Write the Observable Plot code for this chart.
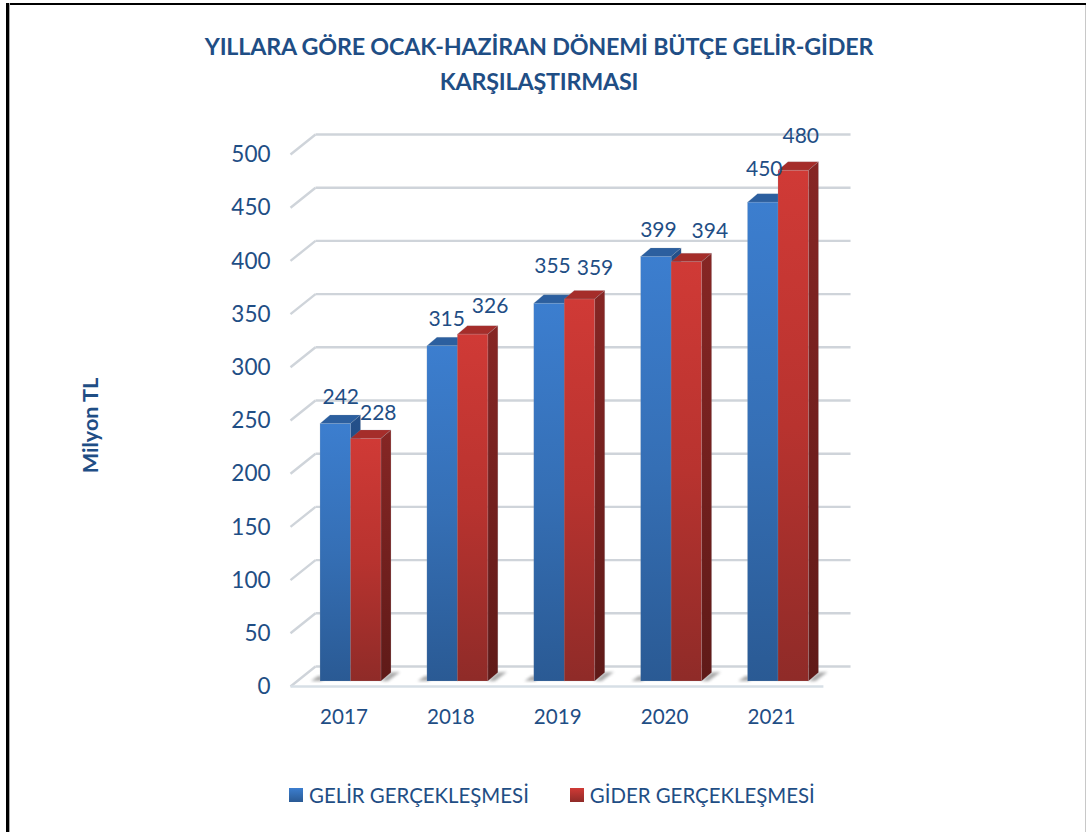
<!DOCTYPE html>
<html><head><meta charset="utf-8">
<script src="https://cdn.jsdelivr.net/npm/d3@7"></script>
<script src="https://cdn.jsdelivr.net/npm/@observablehq/plot@0.6"></script>
<style>
html,body{margin:0;padding:0;background:#fff;}
#frame{position:relative;width:1086px;height:832px;box-sizing:border-box;overflow:hidden;font-family:Lato,sans-serif;color:#1f4e85;}
#edgeTop{position:absolute;left:6px;top:3px;right:0;height:2px;background:#000;}
#edgeLeft{position:absolute;left:6px;top:3px;bottom:0;width:3px;background:#000;border-right:1px solid #aaa;}
#edgeRight{position:absolute;right:0;top:5px;bottom:0;width:1.5px;background:#c8c8c8;}
#title{height:110px;box-sizing:border-box;padding-top:29px;width:1078px;text-align:center;font-weight:700;font-size:23.3px;line-height:35px;letter-spacing:-.2px;color:#1f4e85;}
#chart svg{display:block;}
#legend{display:flex;justify-content:flex-start;padding-left:289px;height:60px;align-items:center;font-size:20.4px;margin-top:5px;}
.sw{display:inline-block;width:14px;height:14px;margin-right:6px;}
.it{display:flex;align-items:center;margin-right:41px;}
</style></head><body>
<div id="frame"><div id="edgeTop"></div><div id="edgeLeft"></div><div id="edgeRight"></div>
<div id="title">YILLARA GÖRE OCAK-HAZİRAN DÖNEMİ BÜTÇE GELİR-GİDER<br>KARŞILAŞTIRMASI</div>
<div id="chart"></div>
<div id="legend"></div>
</div>
<script>
const years=[2017,2018,2019,2020,2021];
const gelir=[242,315,355,399,450];
const gider=[228,326,359,394,480];
const yTicks=[0,50,100,150,200,250,300,350,400,450,500];
const seriesNames=["GELİR GERÇEKLEŞMESİ","GİDER GERÇEKLEŞMESİ"];
// label nudges in pixels, [dx,dy] for each year
const gelirNudge=[[5,-27],[4,-27],[3,-38],[2,-27],[1,-33]];
const giderNudge=[[12,-26],[17,-28],[15,-31],[23,-31],[7,-35]];

const blue="#1f4e85";
const barW=0.285;
const gridFrontX=2016.434, gridBackX=2016.668, gridEndX=2021.674, floorEndX=2021.42;
const drop=4.7, rise=14.1;
const depthX=10, depthY=-8.5;
const rows=years.map((year,i)=>({year,gelir:gelir[i],gider:gider[i],i}));

function bars3d(key,grad,topColor,sideColor,x1,x2){
  return Plot.rectY(rows,{x1:d=>d.year+x1,x2:d=>d.year+x2,y1:0,y2:d=>d[key],fill:`url(#${grad})`,stroke:"#9aa6b4",strokeOpacity:.3,strokeWidth:.6,
    render(index,scales,values,dim,ctx,next){
      const g=next(index,scales,values,dim,ctx);
      const rects=[...g.querySelectorAll("rect")];
      const ns="http://www.w3.org/2000/svg";
      const poly=(pts,fill,op,blur)=>{const p=document.createElementNS(ns,"polygon");p.setAttribute("points",pts.map(q=>q.join(",")).join(" "));p.setAttribute("fill",fill);if(op)p.setAttribute("opacity",op);if(blur)p.setAttribute("filter","url(#soft)");return p;};
      rects.forEach(r=>{
        const x=+r.getAttribute("x"),y=+r.getAttribute("y"),w=+r.getAttribute("width"),h=+r.getAttribute("height");
        const R=x+w,B=y+h;
        if(key==="gelir") g.insertBefore(poly([[x-9,B],[x-2,B-5],[x+2,B-5],[x+2,B]],"#6e6e6e",.6,true),r);
        else g.insertBefore(poly([[R,B],[R+depthX,B+depthY],[R+19,B-9],[R+7,B]],"#6e6e6e",.6,true),r);
        g.insertBefore(poly([[x,y],[R,y],[R+depthX,y+depthY],[x+depthX,y+depthY]],topColor),r);
        g.insertBefore(poly([[R,y],[R+depthX,y+depthY],[R+depthX,B+depthY],[R,B]],`url(#${sideColor})`),r);
      });
      return g;
    }});
}
const defs=()=>{
  const s=d3.create("svg:defs");
  const add=(id,stops)=>{const g=s.append("linearGradient").attr("id",id).attr("x1",0).attr("x2",0).attr("y1",0).attr("y2",1);
    stops.forEach(([o,c])=>g.append("stop").attr("offset",o).attr("stop-color",c));};
  add("gBlue",[[0,"#3c7ecf"],[.5,"#356fb5"],[1,"#2a5a94"]]);
  add("gRed",[[0,"#d03a36"],[.5,"#b8332f"],[1,"#8f2b28"]]);
  add("sBlue",[[0,"#24508a"],[1,"#1b3d68"]]);
  add("sRed",[[0,"#862624"],[1,"#5f1a18"]]);
  s.append("filter").attr("id","soft").attr("x","-30%").attr("y","-30%").attr("width","160%").attr("height","160%")
   .append("feGaussianBlur").attr("stdDeviation",1.4);
  return s.node();
};
const gridColor="#cfd4da";
const labelMark=(key,nudge)=>rows.map((d,i)=>Plot.text([d],{x:d=>d.year+(key==="gelir"?-barW/2:barW/2),y:key,text:d=>String(d[key]),dx:nudge[i][0],dy:nudge[i][1],fill:blue,fontSize:21}));

const plot=Plot.plot({
  width:1086,height:650,marginLeft:290,marginRight:200,marginTop:40,marginBottom:60,
  style:{fontFamily:"Lato,sans-serif",background:"transparent",color:blue},
  x:{domain:[2017,2021],range:[350.5,778]},
  y:{domain:[0,500],range:[571,39]},
  marks:[
    defs,
    Plot.axisY({ticks:yTicks,tickSize:0,tickPadding:20,fontSize:22.5,fill:blue,dy:5.5,label:"Milyon TL",labelAnchor:"center",labelArrow:"none",labelOffset:208,tickFormat:d=>String(d)}),
    Plot.axisX({ticks:years,tickSize:0,tickPadding:9,fontSize:20.6,fill:blue,dx:-7,label:null,tickFormat:d=>String(d)}),
    Plot.link(yTicks,{x1:gridFrontX,x2:gridBackX,y1:d=>d-drop,y2:d=>d+rise,stroke:gridColor,strokeWidth:2.4}),
    Plot.link(yTicks,{x1:gridBackX,x2:gridEndX,y1:d=>d+rise,y2:d=>d+rise,stroke:gridColor,strokeWidth:2.4}),
    Plot.link([0],{x1:gridFrontX,x2:floorEndX,y1:-drop,y2:-drop,stroke:"#d7dfe6",strokeWidth:2.4}),
    bars3d("gelir","gBlue","#2c5f9f","sBlue",-barW,0),
    bars3d("gider","gRed","#a52d2a","sRed",0,barW),
    ...labelMark("gelir",gelirNudge),
    ...labelMark("gider",giderNudge)
  ]
});
document.getElementById("chart").append(plot);
d3.select(plot).selectAll('[aria-label="y-axis label"] text').attr("font-weight",700).attr("font-size",21.6);
const legend=d3.select("#legend");
[["linear-gradient(#3c7ecf,#2a5a94)",seriesNames[0]],["linear-gradient(#d03a36,#8f2b28)",seriesNames[1]]].forEach(([bg,t])=>{
  const it=legend.append("div").attr("class","it");
  it.append("span").attr("class","sw").style("background",bg);
  it.append("span").text(t);
});
</script>
</body></html>
